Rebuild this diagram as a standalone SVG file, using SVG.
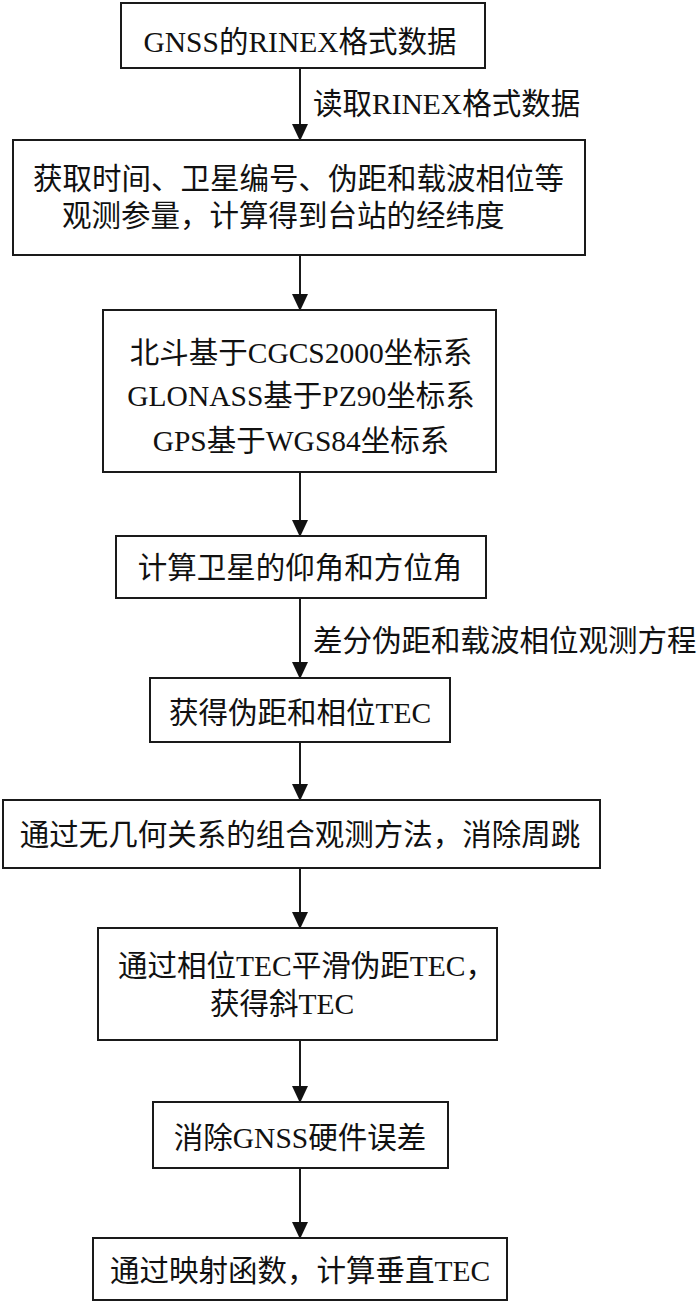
<svg xmlns="http://www.w3.org/2000/svg" width="700" height="1306" viewBox="0 0 700 1306">
<style>
.box{fill:#fff;stroke:#1a1a1a;stroke-width:2}
.t{font-family:"Liberation Serif","Noto Sans CJK SC",serif;font-size:29.5px;fill:#111}
.c{text-anchor:middle}
.e{stroke:#1a1a1a;stroke-width:2;fill:none}
</style>
<defs>
<marker id="ah" markerUnits="userSpaceOnUse" markerWidth="18" markerHeight="20" refX="16" refY="8" orient="auto">
<path d="M0,0 L17,8 L0,16 Z" fill="#111"/>
</marker>
</defs>
<rect width="700" height="1306" fill="#fff"/>
<g id="connectors">
<line class="e" x1="300" y1="68" x2="300" y2="140" marker-end="url(#ah)"/>
<text class="t" x="313" y="114">读取RINEX格式数据</text>
<line class="e" x1="300" y1="255" x2="300" y2="310" marker-end="url(#ah)"/>
<line class="e" x1="300" y1="472" x2="300" y2="536" marker-end="url(#ah)"/>
<line class="e" x1="300" y1="598" x2="300" y2="678" marker-end="url(#ah)"/>
<text class="t" x="313" y="651">差分伪距和载波相位观测方程</text>
<line class="e" x1="300" y1="742" x2="300" y2="800" marker-end="url(#ah)"/>
<line class="e" x1="300" y1="868" x2="300" y2="928" marker-end="url(#ah)"/>
<line class="e" x1="300" y1="1040" x2="300" y2="1102" marker-end="url(#ah)"/>
<line class="e" x1="300" y1="1168" x2="300" y2="1238" marker-end="url(#ah)"/>
</g>
<g id="n1"><rect class="box" x="121" y="3" width="364" height="65"/><text class="t c" x="300" y="52">GNSS的RINEX格式数据</text></g>
<g id="n2"><rect class="box" x="13" y="140" width="572" height="115"/><text class="t" x="33" y="189">获取时间、卫星编号、伪距和载波相位等</text><text class="t" x="62" y="226">观测参量，计算得到台站的经纬度</text></g>
<g id="n3"><rect class="box" x="103" y="310" width="393" height="162"/><text class="t c" x="301" y="363">北斗基于CGCS2000坐标系</text><text class="t c" x="301" y="406">GLONASS基于PZ90坐标系</text><text class="t c" x="301" y="451">GPS基于WGS84坐标系</text></g>
<g id="n4"><rect class="box" x="116" y="536" width="370" height="62"/><text class="t c" x="300" y="578">计算卫星的仰角和方位角</text></g>
<g id="n5"><rect class="box" x="150" y="678" width="300" height="64"/><text class="t c" x="300" y="723">获得伪距和相位TEC</text></g>
<g id="n6"><rect class="box" x="3" y="800" width="597" height="68"/><text class="t c" x="300" y="845">通过无几何关系的组合观测方法，消除周跳</text></g>
<g id="n7"><rect class="box" x="98" y="928" width="399" height="112"/><text class="t" x="118" y="976">通过相位TEC平滑伪距TEC，</text><text class="t" x="210" y="1014">获得斜TEC</text></g>
<g id="n8"><rect class="box" x="153" y="1102" width="295" height="66"/><text class="t c" x="300" y="1148">消除GNSS硬件误差</text></g>
<g id="n9"><rect class="box" x="93" y="1238" width="414" height="62"/><text class="t c" x="300" y="1281">通过映射函数，计算垂直TEC</text></g>
</svg>
